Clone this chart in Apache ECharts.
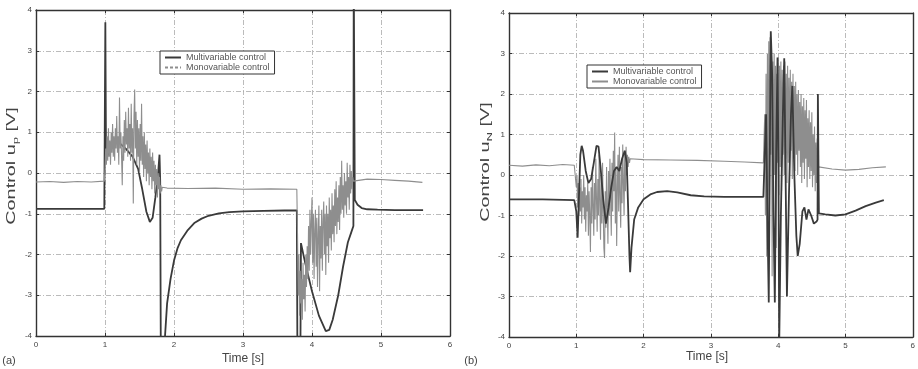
<!DOCTYPE html>
<html><head><meta charset="utf-8">
<script src="https://cdn.jsdelivr.net/npm/echarts@6/dist/echarts.min.js"></script>
<style>html,body{margin:0;padding:0;background:#fff}#c{width:918px;height:369px}</style>
</head><body><div id="c"></div>
<script>
// ---------- data ----------
const xTicks = [0, 1, 2, 3, 4, 5, 6];
const yTicks = [-4, -3, -2, -1, 0, 1, 2, 3, 4];
const seriesNames = ['Multivariable control', 'Monovariable control'];
const xTitle = 'Time [s]';

// (a) multivariable control u_p
const aMulti = [[0,-0.88],[0.99,-0.88],[1.0,-0.88],[1.005,3.7],[1.015,0.3],[1.05,0.5],[1.1,0.7],[1.15,0.8],[1.2,0.75],[1.3,0.6],[1.4,0.4],[1.48,0.1],[1.54,-0.4],[1.6,-0.95],[1.65,-1.2],[1.69,-1.1],[1.73,-0.6],[1.77,0.0],[1.79,0.45],[1.8,-0.2],[1.81,-5],[1.86,-5],[1.87,-4.0],[1.9,-3.2],[1.95,-2.6],[2.0,-2.15],[2.05,-1.85],[2.1,-1.65],[2.2,-1.4],[2.3,-1.22],[2.4,-1.12],[2.5,-1.05],[2.65,-0.99],[2.8,-0.96],[3.0,-0.94],[3.3,-0.93],[3.6,-0.92],[3.78,-0.92],[3.79,-5],[3.83,-5],[3.84,-1.72],[3.9,-2.2],[4.0,-2.9],[4.1,-3.5],[4.2,-3.88],[4.25,-3.85],[4.3,-3.6],[4.38,-3.0],[4.45,-2.3],[4.52,-1.7],[4.57,-1.45],[4.6,-1.3],[4.605,5],[4.615,5],[4.62,-0.66],[4.66,-0.78],[4.72,-0.86],[4.8,-0.89],[4.95,-0.9],[5.2,-0.91],[5.61,-0.91]];

// (a) monovariable control u_p
const aMono = [[0,-0.22],[0.2,-0.21],[0.4,-0.23],[0.6,-0.21],[0.8,-0.22],[0.99,-0.2],
[1.00,0.1],[1.01,0.6],[1.02,0.2],[1.03,0.9],[1.04,0.3],[1.05,1.1],[1.06,0.4],[1.07,0.8],[1.08,0.2],[1.09,1.0],
[1.10,0.5],[1.11,1.2],[1.12,0.4],[1.13,0.9],[1.14,0.3],[1.15,1.1],[1.16,0.6],[1.17,1.4],[1.18,0.5],[1.19,0.9],
[1.20,0.2],[1.21,1.85],[1.22,0.6],[1.23,1.0],[1.24,0.4],[1.25,-0.3],[1.26,0.9],[1.27,0.3],[1.28,1.3],[1.29,0.5],
[1.30,1.5],[1.31,0.7],[1.32,1.1],[1.33,0.4],[1.34,1.6],[1.35,0.6],[1.36,1.2],[1.37,0.3],[1.38,1.7],[1.39,0.5],
[1.40,1.1],[1.41,-0.75],[1.42,1.4],[1.43,2.05],[1.44,0.6],[1.45,1.5],[1.46,0.2],[1.47,1.3],[1.48,0.4],[1.49,1.1],
[1.50,0.0],[1.51,1.2],[1.52,0.3],[1.53,1.7],[1.54,0.2],[1.55,0.9],[1.56,-0.1],[1.57,1.0],[1.58,0.1],[1.59,0.7],
[1.60,-0.2],[1.61,0.8],[1.62,0.0],[1.63,0.5],[1.64,-0.3],[1.65,0.6],[1.66,-0.1],[1.67,0.4],[1.68,-0.4],[1.69,0.5],
[1.70,-0.2],[1.71,0.3],[1.72,-0.5],[1.73,0.2],[1.74,-0.3],[1.75,0.1],[1.76,-0.6],[1.77,0.0],[1.78,-0.4],[1.79,-0.1],
[1.80,-0.5],[1.81,-0.3],[1.82,-0.45],[1.83,-0.35],[1.84,-0.38],[1.85,-0.33],
[1.9,-0.37],[2.2,-0.38],[2.6,-0.37],[3.0,-0.4],[3.4,-0.39],[3.78,-0.4],
[3.79,-1.5],[3.80,-3.0],[3.81,-2.0],[3.82,-3.5],[3.83,-2.4],[3.84,-3.2],[3.85,-2.6],[3.86,-3.6],[3.87,-2.2],[3.88,-3.1],
[3.89,-2.5],[3.90,-3.4],[3.91,-2.0],[3.92,-2.8],[3.93,-1.8],[3.94,-2.6],[3.95,-1.3],[3.96,-2.4],[3.97,-0.9],[3.98,-2.0],
[3.99,-1.2],[4.00,-0.6],[4.01,-2.2],[4.02,-1.0],[4.03,-2.6],[4.04,-1.4],[4.05,-0.9],[4.06,-2.3],[4.07,-1.1],[4.08,-2.8],
[4.09,-1.5],[4.10,-0.8],[4.11,-2.9],[4.12,-1.3],[4.13,-2.1],[4.14,-0.9],[4.15,-2.4],[4.16,-1.2],[4.17,-0.7],[4.18,-2.0],
[4.19,-1.0],[4.20,-2.5],[4.21,-0.8],[4.22,-1.8],[4.23,-1.0],[4.24,-2.2],[4.25,-0.6],[4.26,-1.6],[4.27,-0.9],[4.28,-1.9],
[4.29,-0.5],[4.30,-1.5],[4.31,-0.8],[4.32,-1.7],[4.33,-0.4],[4.34,-1.3],[4.35,-0.2],[4.36,-1.5],[4.37,-0.6],[4.38,-1.2],
[4.39,-0.3],[4.40,-1.4],[4.41,-0.1],[4.42,-1.0],[4.43,0.3],[4.44,-0.9],[4.45,-0.3],[4.46,-1.1],[4.47,0.0],[4.48,-0.8],
[4.49,-0.2],[4.50,-1.0],[4.51,0.25],[4.52,-0.6],[4.53,-0.1],[4.54,-0.9],[4.55,0.2],[4.56,-0.5],[4.57,0.05],[4.58,-0.4],
[4.59,-0.1],[4.60,-0.2],[4.62,-0.17],[4.8,-0.15],[5.0,-0.16],[5.2,-0.18],[5.4,-0.2],[5.6,-0.23]];

// (b) multivariable control u_N
const bMulti = [[0,-0.6],[0.5,-0.6],[0.97,-0.62],[0.98,-0.62],[1.0,-0.9],[1.02,-1.55],[1.04,-0.5],[1.06,0.5],[1.08,0.72],[1.10,0.6],[1.14,0.1],[1.18,-0.2],[1.22,-0.1],[1.26,0.3],[1.3,0.72],[1.33,0.7],[1.36,0.2],[1.4,-0.6],[1.44,-1.2],[1.48,-0.8],[1.52,-0.3],[1.56,0.1],[1.6,0.2],[1.64,0.1],[1.68,0.4],[1.72,0.6],[1.75,0.3],[1.77,-0.8],[1.79,-2.0],[1.8,-2.4],[1.82,-1.8],[1.86,-1.1],[1.92,-0.8],[2.0,-0.6],[2.1,-0.48],[2.2,-0.42],[2.35,-0.4],[2.5,-0.43],[2.7,-0.5],[2.9,-0.53],[3.2,-0.54],[3.5,-0.54],[3.78,-0.54],
[3.80,-0.54],[3.82,1.5],[3.84,-1.0],[3.86,-3.15],[3.88,1.5],[3.89,3.55],[3.91,2.5],[3.93,-1.0],[3.95,-3.15],[3.97,0.5],[3.99,2.9],[4.005,0.0],[4.015,-4.2],[4.04,-1.0],[4.07,1.5],[4.09,2.88],[4.11,0.0],[4.13,-3.0],[4.16,-0.5],[4.19,1.5],[4.21,2.2],[4.24,0.0],[4.27,-1.5],[4.29,-2.0],[4.32,-1.7],[4.36,-0.9],[4.39,-0.8],[4.42,-1.1],[4.45,-0.85],[4.49,-1.0],[4.53,-1.2],[4.57,-1.15],[4.585,-1.1],[4.59,2.0],[4.60,2.0],[4.605,-0.95],[4.7,-0.97],[4.85,-1.0],[5.0,-0.97],[5.15,-0.88],[5.3,-0.77],[5.45,-0.68],[5.57,-0.62]];

// (b) monovariable control u_N
const bMono = [[0,0.24],[0.2,0.22],[0.4,0.25],[0.6,0.23],[0.8,0.26],[0.97,0.24],
[1.00,-0.3],[1.01,0.0],[1.02,-0.8],[1.03,-0.2],[1.04,-1.0],[1.05,-0.3],[1.06,-0.9],[1.07,-0.1],[1.08,-1.2],[1.09,-0.4],
[1.10,-0.8],[1.11,0.0],[1.12,-1.1],[1.13,-0.3],[1.14,-1.4],[1.15,-0.5],[1.16,-0.9],[1.17,-0.2],[1.18,-1.5],[1.19,-0.4],
[1.20,-1.0],[1.21,-1.9],[1.22,-0.3],[1.23,-1.2],[1.24,0.2],[1.25,-0.8],[1.26,-1.5],[1.27,-0.2],[1.28,-1.1],[1.29,0.4],
[1.30,-0.6],[1.31,-1.4],[1.32,-0.1],[1.33,-1.0],[1.34,0.5],[1.35,-0.7],[1.36,-1.6],[1.37,0.0],[1.38,-1.2],[1.39,0.3],
[1.40,-0.9],[1.41,-1.8],[1.42,-2.05],[1.43,-0.4],[1.44,-1.3],[1.45,0.2],[1.46,-0.8],[1.47,-1.7],[1.48,0.1],[1.49,-1.0],
[1.50,0.4],[1.51,-0.6],[1.52,-1.5],[1.53,0.3],[1.54,-0.9],[1.55,0.6],[1.56,-0.4],[1.57,1.05],[1.58,-1.2],[1.59,0.2],
[1.60,-1.75],[1.61,-0.3],[1.62,0.5],[1.63,-0.9],[1.64,0.7],[1.65,-0.5],[1.66,-1.3],[1.67,0.2],[1.68,-0.7],[1.69,0.75],
[1.70,-0.2],[1.71,-1.0],[1.72,0.6],[1.73,-0.4],[1.74,0.7],[1.75,0.0],[1.76,0.5],[1.77,0.2],[1.78,0.45],[1.79,0.3],
[1.80,0.4],[1.82,0.36],[2.0,0.38],[2.4,0.37],[2.8,0.36],[3.2,0.34],[3.5,0.32],[3.78,0.3],
[3.79,0.3],[3.80,1.5],[3.81,-1.0],[3.82,2.5],[3.83,-2.0],[3.84,3.0],[3.85,-1.5],[3.86,3.3],[3.87,-0.5],[3.88,3.4],
[3.89,0.5],[3.90,3.2],[3.91,-2.5],[3.92,2.8],[3.93,-1.0],[3.94,3.0],[3.95,0.0],[3.96,2.7],[3.97,-1.8],[3.98,2.5],
[3.99,0.3],[4.00,2.9],[4.01,-0.5],[4.02,2.7],[4.03,0.2],[4.04,2.8],[4.05,-0.4],[4.06,2.6],[4.07,0.5],[4.08,2.7],
[4.09,0.0],[4.10,2.8],[4.11,0.4],[4.12,2.5],[4.13,-0.2],[4.14,2.7],[4.15,0.3],[4.16,2.4],[4.17,0.0],[4.18,2.6],
[4.19,0.6],[4.20,2.3],[4.21,-0.1],[4.22,2.5],[4.23,0.4],[4.24,2.2],[4.25,0.1],[4.26,2.3],[4.27,0.5],[4.28,2.0],
[4.29,0.0],[4.30,2.1],[4.31,0.6],[4.32,1.8],[4.33,0.2],[4.34,2.0],[4.35,-0.2],[4.36,1.7],[4.37,0.3],[4.38,1.9],
[4.39,-0.1],[4.40,1.6],[4.41,0.4],[4.42,1.85],[4.43,-0.3],[4.44,1.4],[4.45,0.2],[4.46,1.6],[4.47,-0.1],[4.48,1.3],
[4.49,0.1],[4.50,1.55],[4.51,-0.3],[4.52,1.0],[4.53,0.0],[4.54,1.2],[4.55,-0.4],[4.56,0.8],[4.57,-0.2],[4.58,0.9],
[4.59,0.1],[4.60,0.2],[4.62,0.17],[4.8,0.15],[5.0,0.12],[5.2,0.14],[5.4,0.18],[5.6,0.2]];

// ---------- chart ----------
const FONT = 'Liberation Sans';
const DARK = '#3a3a3a';
const GRAY = '#8e8e8e';
const grids = [
  {left: 36, top: 10, width: 414, height: 326},
  {left: 509, top: 13, width: 414, height: 324}
];
const frameLine = {show: true, onZero: false, lineStyle: {color: '#333', width: 1.4}};
const tick = {show: true, inside: true, length: 3, lineStyle: {color: '#333'}};
const split = {show: true, lineStyle: {color: '#aaa', width: 0.8, type: [5, 2, 1, 2]}};
const lbl = {fontSize: 8, color: '#444', fontFamily: FONT, margin: 5};

const xAxes = [], yAxes = [];
[0, 1].forEach(g => {
  xAxes.push({gridIndex: g, type: 'value', min: xTicks[0], max: xTicks[xTicks.length-1], interval: 1,
    axisLine: frameLine, axisTick: tick, axisLabel: lbl, splitLine: split});
  xAxes.push({gridIndex: g, type: 'value', position: 'top', min: xTicks[0], max: xTicks[xTicks.length-1], interval: 1,
    axisLine: frameLine, axisTick: tick, axisLabel: {show: false}, splitLine: {show: false}});
  yAxes.push({gridIndex: g, type: 'value', min: yTicks[0], max: yTicks[yTicks.length-1], interval: 1,
    axisLine: frameLine, axisTick: tick, axisLabel: Object.assign({}, lbl, {margin: 4}), splitLine: split});
  yAxes.push({gridIndex: g, type: 'value', position: 'right', min: yTicks[0], max: yTicks[yTicks.length-1], interval: 1,
    axisLine: frameLine, axisTick: tick, axisLabel: {show: false}, splitLine: {show: false}});
});

function line(name, data, xi, yi, color, w, z) {
  return {name, type: 'line', data, xAxisIndex: xi, yAxisIndex: yi, showSymbol: false, symbol: 'none',
    clip: true, z, lineStyle: {color, width: w}, itemStyle: {color}, animation: false};
}

const legendBase = {orient: 'vertical', selectedMode: false, backgroundColor: '#fff', borderColor: '#333',
  borderWidth: 1, borderRadius: 0, padding: [2, 5, 2, 4], itemGap: 1, itemWidth: 16, itemHeight: 6,
  itemStyle: {opacity: 0},
  textStyle: {fontSize: 9, color: '#555', fontFamily: FONT, lineHeight: 9}};

function yName(x, y, sub) {
  return {type: 'text', x, y, rotation: Math.PI / 2, scaleX: 1.65, scaleY: 1,
    style: {text: '{a|Control u}{s|' + sub + '}{a| [V]}', rich: {
      a: {fontSize: 12, fontFamily: FONT, fill: '#444', color: '#444'},
      s: {fontSize: 8, fontFamily: FONT, fill: '#444', color: '#444', padding: [7, 0, 0, 0]}},
      align: 'center', verticalAlign: 'middle', textAlign: 'center', textVerticalAlign: 'middle'}};
}
function txt(x, y, t, size) {
  return {type: 'text', x, y, style: {text: t, font: size + 'px "' + FONT + '"', fill: '#444',
    align: 'center', verticalAlign: 'middle', textAlign: 'center', textVerticalAlign: 'middle'}};
}

const chart = echarts.init(document.getElementById('c'), null, {renderer: 'canvas'});
chart.setOption({
  animation: false,
  backgroundColor: '#fff',
  grid: grids,
  xAxis: xAxes,
  yAxis: yAxes,
  legend: [
    Object.assign({}, legendBase, {left: 160, top: 51,
      data: [{name: seriesNames[0]}, {name: seriesNames[1], lineStyle: {type: [3, 2]}}]}),
    Object.assign({}, legendBase, {left: 587, top: 65,
      data: [{name: seriesNames[0]}, {name: seriesNames[1]}]})
  ],
  series: [
    line(seriesNames[0], aMulti, 0, 0, DARK, 1.8, 2),
    line(seriesNames[1], aMono, 0, 0, GRAY, 1.1, 3),
    line(seriesNames[1], bMono, 2, 2, GRAY, 1.1, 2),
    line(seriesNames[0], bMulti, 2, 2, DARK, 1.8, 3)
  ],
  graphic: [
    yName(12, 166, 'p'),
    yName(486, 162, 'N'),
    txt(243, 359, xTitle, 12),
    txt(707, 357, xTitle, 12),
    txt(9, 361, '(a)', 11),
    txt(471, 361, '(b)', 11)
  ]
});
</script>
</body></html>
